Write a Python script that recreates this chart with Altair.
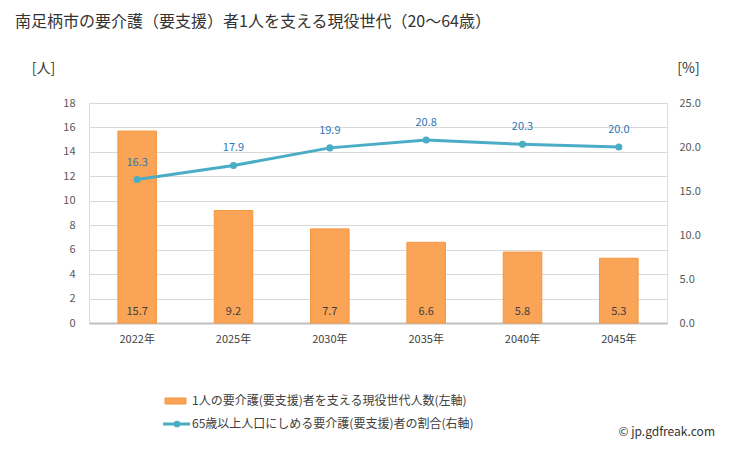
import altair as alt
import pandas as pd

years = ["2022年", "2025年", "2030年", "2035年", "2040年", "2045年"]
supporters = [15.7, 9.2, 7.7, 6.6, 5.8, 5.3]
ratio = [16.3, 17.9, 19.9, 20.8, 20.3, 20.0]

title_text = "南足柄市の要介護（要支援）者1人を支える現役世代（20～64歳）"
legend_bar = "1人の要介護(要支援)者を支える現役世代人数(左軸)"
legend_line = "65歳以上人口にしめる要介護(要支援)者の割合(右軸)"

df = pd.DataFrame({"year": years, "supporters": supporters, "ratio": ratio})
one = pd.DataFrame({"k": [0]})

FONT = "Noto Sans CJK JP"
W, H = 578, 220

x = alt.X("year:N", sort=years, title=None,
          scale=alt.Scale(paddingInner=0.6, paddingOuter=0.3),
          axis=alt.Axis(labelAngle=0, ticks=False, domainColor="#bfbfbf", domainWidth=2,
                        labelColor="#404040", labelFontSize=11, labelPadding=10, labelFont=FONT))

bars = alt.Chart(df).mark_bar(color="#f9a456", stroke="#f7963f", strokeWidth=1).encode(
    x=x,
    y=alt.Y("supporters:Q", scale=alt.Scale(domain=[0, 18]),
            axis=alt.Axis(title="[人]", titleAngle=0, titleX=-46, titleY=-28, titleFont=FONT,
                          titleFontSize=14, titleFontWeight="normal", titleColor="#333333",
                          values=list(range(0, 19, 2)), ticks=False, domain=False,
                          gridColor="#d9d9d9", labelColor="#595959", labelFontSize=11,
                          labelPadding=14, labelFont=FONT)),
)

bar_labels = alt.Chart(df).mark_text(font=FONT, fontSize=11, color="#404040", baseline="middle").encode(
    x=alt.X("year:N", sort=years),
    y=alt.value(209),
    text=alt.Text("supporters:Q", format=".1f"),
)

yr = alt.Y("ratio:Q", scale=alt.Scale(domain=[0, 25]),
           axis=alt.Axis(title="[%]", titleAngle=0, titleX=21, titleY=-28, titleFont=FONT,
                         titleFontSize=14, titleFontWeight="normal", titleColor="#333333",
                         orient="right", values=[0, 5, 10, 15, 20, 25], format=".1f",
                         ticks=False, domain=False, grid=False, labelColor="#595959",
                         labelFontSize=11, labelPadding=12, labelFont=FONT))

line = alt.Chart(df).mark_line(color="#4bacc6", strokeWidth=3).encode(
    x=alt.X("year:N", sort=years), y=yr)
points = alt.Chart(df).mark_point(filled=True, color="#4bacc6", size=50, opacity=1).encode(
    x=alt.X("year:N", sort=years), y=yr)
line_labels = alt.Chart(df).mark_text(font=FONT, fontSize=11, color="#2e75b6", dy=-17).encode(
    x=alt.X("year:N", sort=years), y=yr,
    text=alt.Text("ratio:Q", format=".1f"),
)

# title, legend, credit
title = alt.Chart(one).mark_text(font=FONT, fontSize=16, color="#333333", align="left", baseline="middle").encode(
    x=alt.value(-74), y=alt.value(-81), text=alt.value(title_text))
leg_rect = alt.Chart(one).mark_rect(color="#f9a456", stroke="#f7963f").encode(
    x=alt.value(76), x2=alt.value(97), y=alt.value(295), y2=alt.value(301))
leg_text1 = alt.Chart(one).mark_text(font=FONT, fontSize=12, color="#404040", align="left", baseline="middle").encode(
    x=alt.value(103), y=alt.value(298), text=alt.value(legend_bar))
leg_rule = alt.Chart(one).mark_rule(color="#4bacc6", strokeWidth=3).encode(
    x=alt.value(74), x2=alt.value(101), y=alt.value(321))
leg_pt = alt.Chart(one).mark_point(filled=True, color="#4bacc6", size=45, opacity=1).encode(
    x=alt.value(88), y=alt.value(321))
leg_text2 = alt.Chart(one).mark_text(font=FONT, fontSize=12, color="#404040", align="left", baseline="middle").encode(
    x=alt.value(103), y=alt.value(321), text=alt.value(legend_line))
copyright = alt.Chart(one).mark_text(font=FONT, fontSize=12, color="#333333", align="right", baseline="middle").encode(
    x=alt.value(626), y=alt.value(329), text=alt.value("© jp.gdfreak.com"))

left = alt.layer(bars, bar_labels, title, leg_rect, leg_text1, leg_rule, leg_pt, leg_text2, copyright)
right = alt.layer(line, points, line_labels)

chart = alt.layer(left, right).resolve_scale(y="independent").properties(
    width=W, height=H,
    autosize=alt.AutoSizeParams(type="none"),
    padding={"left": 81, "top": 95, "right": 50, "bottom": 118},
).configure_view(stroke=None).configure(background="white")

chart.save("out.html", embed_options={"renderer": "svg", "actions": False})
